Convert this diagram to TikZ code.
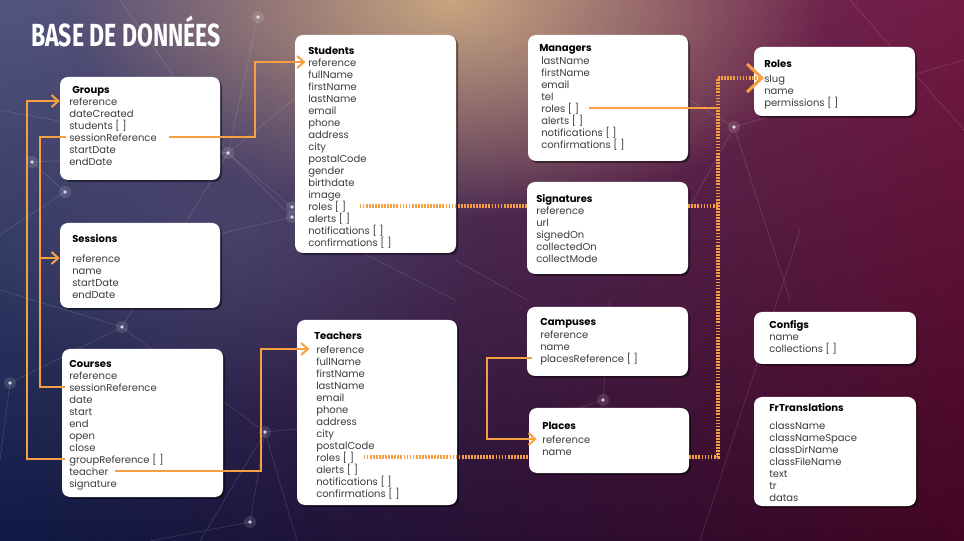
\documentclass[tikz,border=0pt]{standalone}
\usepackage{fontspec}
\setmainfont{Poppins}
\newfontfamily\headfont[FakeStretch=0.72]{Fira Sans}
\usetikzlibrary{arrows.meta,shadows,fit,fadings,shadings}

\definecolor{linkorange}{HTML}{F7A043}
\definecolor{fieldgray}{HTML}{3C3C3C}
\definecolor{bgtl}{HTML}{52567F}
\definecolor{bgtr}{HTML}{731A44}
\definecolor{bgbl}{HTML}{0E1A45}
\definecolor{bgbr}{HTML}{420522}
\definecolor{glowbeige}{HTML}{C8A680}

\tikzfading[name=glowfade, inner color=transparent!0, outer color=transparent!100]

% name, top left, bottom right, title pos, title, first field pos, fields
\newcommand{\entity}[7]{%
  \node[entbox, fit={(#2) (#3)}] (#1) {};
  \node[enttitle] (#1-t) at (#4) {#5};
  \foreach \f [count=\i] in {#7}
    \path (#6) ++(0,{12*(\i-1)}) node[field] (#1-\i) {\f};
}

\begin{document}
\begin{tikzpicture}[x=0.75pt, y=-0.75pt,
    entbox/.style={fill=white, rounded corners=6pt, inner sep=0pt,
      drop shadow={shadow xshift=1.5pt, shadow yshift=-1.5pt, opacity=0.45, fill=black}},
    enttitle/.style={anchor=west, inner sep=0pt, text=black, text height=7pt, text depth=0pt,
      font=\fontsize{7.5}{9}\selectfont\bfseries},
    field/.style={anchor=west, inner sep=0pt, text=fieldgray, text height=7pt, text depth=0pt,
      font=\fontsize{7.5}{9}\selectfont},
    link/.style={linkorange, line width=1.5pt},
    dotlink/.style={linkorange, line width=2.3pt, dash pattern=on 1.3pt off 1pt},
    net/.style={white, opacity=0.16, line width=0.4pt},
    >={Straight Barb[length=5pt, width=9pt, line width=1.5pt]}]

\useasboundingbox (0,0) rectangle (964,541);

% background
\begin{scope}
  \clip (0,0) rectangle (964,541);
  \shade[upper left=bgtl, upper right=bgtr, lower left=bgbl, lower right=bgbr] (0,0) rectangle (964,541);
  \fill[glowbeige, path fading=glowfade] (450,0) ellipse [x radius=380, y radius=220];
  \fill[bgtl, opacity=0.45, path fading=glowfade] (230,230) ellipse [x radius=260, y radius=180];
  \foreach \a/\b in {228/153, 292/207, 292/217, 122/327, 10/383, 265/432, 32/162, 65/192,
      258/17, 734/127, 603/400, 250/522}
    \fill[white, opacity=0.12] (\a,\b) circle [radius=6];
  \draw[net] (228,153) -- (292,207) (228,153) -- (292,217) (228,153) -- (32,162)
    (228,153) -- (258,17) (228,153) -- (0,110) (228,153) -- (120,0) (228,153) -- (330,70)
    (292,207) -- (455,150) (292,217) -- (455,300) (292,217) -- (150,250) (122,327) -- (10,383)
    (122,327) -- (265,432) (122,327) -- (228,153) (122,327) -- (0,290) (10,383) -- (0,460)
    (265,432) -- (297,541) (265,432) -- (200,541) (265,432) -- (390,420) (32,162) -- (65,192)
    (65,192) -- (0,235) (734,127) -- (688,210) (734,127) -- (964,60) (734,127) -- (790,300)
    (734,127) -- (640,70) (603,400) -- (527,425) (603,400) -- (610,300) (250,522) -- (265,432)
    (250,522) -- (150,541) (800,230) -- (700,541) (850,0) -- (964,130) (455,260) -- (527,300);
  \foreach \a/\b in {228/153, 292/207, 292/217, 122/327, 10/383, 265/432, 32/162, 65/192,
      258/17, 734/127, 603/400, 250/522}
    \fill[white, opacity=0.75] (\a,\b) circle [radius=1.8];
\end{scope}

\node[anchor=west, inner sep=0pt, text=white, font=\fontsize{24}{28}\selectfont\headfont\bfseries]
  (title) at (31,31) {BASE DE DONNÉES};

% tables
\entity{grp}{60,77}{220,180}{72,89}{Groups}{69,101}
  {reference, dateCreated, {students [ ]}, sessionReference, startDate, endDate}
\entity{ses}{60,223}{220,308}{72,238}{Sessions}{72,258}
  {reference, name, startDate, endDate}
\entity{crs}{62,349}{223,497}{69,363}{Courses}{69,375}
  {reference, sessionReference, date, start, end, open, close, {groupReference [ ]}, teacher, signature}
\entity{stu}{295,35}{456,253}{308,50}{Students}{308,62}
  {reference, fullName, firstName, lastName, email, phone, address, city, postalCode, gender,
   birthdate, image, {roles [ ]}, {alerts [ ]}, {notifications [ ]}, {confirmations [ ]}}
\entity{tea}{297,320}{457,505}{314,335}{Teachers}{316,349}
  {reference, fullName, firstName, lastName, email, phone, address, city, postalCode,
   {roles [ ]}, {alerts [ ]}, {notifications [ ]}, {confirmations [ ]}}
\entity{man}{528,35}{688,161}{539,47}{Managers}{541,60}
  {lastName, firstName, email, tel, {roles [ ]}, {alerts [ ]}, {notifications [ ]}, {confirmations [ ]}}
\entity{sig}{527,182}{688,274}{536,198}{Signatures}{536,210}
  {reference, url, signedOn, collectedOn, collectMode}
\entity{cam}{527,307}{688,376}{540,321}{Campuses}{540,334}
  {reference, name, {placesReference [ ]}}
\entity{pla}{529,408}{689,473}{542,425}{Places}{542,439}
  {reference, name}
\entity{rol}{754,47}{915,116}{764,63}{Roles}{764,78}
  {slug, name, {permissions [ ]}}
\entity{cfg}{754,312}{916,364}{769,324}{Configs}{769,336}
  {name, {collections [ ]}}
\entity{frt}{754,397}{916,506}{769,407}{FrTranslations}{769,425}
  {className, classNameSpace, classDirName, classFileName, text, tr, datas}

% links
\coordinate (j1) at (255,0);
\coordinate (j2) at (40,0);
\coordinate (j3) at (27,0);
\coordinate (j4) at (261,0);
\coordinate (j5) at (487,0);
\coordinate (j6) at (718,0);

\draw[link, ->, shorten <=9pt, shorten >=2pt] (grp-4.east) -- (grp-4.east -| j1) |- (stu-1.west);
\draw[link, shorten <=2pt, shorten >=3pt] (grp-4.west) -- (grp-4.west -| j2) |- (crs-2.west);
\draw[link, ->] (ses-1.west -| j2) -- (ses.west |- ses-1.west);
\draw[link, ->, shorten <=3pt] (crs-8.west) -- (crs-8.west -| j3) |- (grp.west |- grp-1.west);
\draw[link, ->, shorten <=5pt, shorten >=5pt] (crs-9.east) -- (crs-9.east -| j4) |- (tea-1.west);
\draw[link, ->, shorten <=6pt, shorten >=4pt] (cam-3.west) -- (cam-3.west -| j5) |- (pla-1.west);
\draw[link, shorten <=7pt] (man-5.east) -- (man-5.east -| j6);
% dotted role links pass behind Signatures and Places
\draw[dotlink, shorten <=10pt] (stu-13.east) -- (sig.west |- stu-13.east);
\draw[dotlink] (sig.east |- stu-13.east) -- (stu-13.east -| j6);
\draw[dotlink, shorten <=7pt] (tea-10.east) -- (pla.west |- tea-10.east);
\draw[dotlink, -{Straight Barb[length=11pt, width=21pt, line width=2.3pt]}, shorten >=0pt]
  (pla.east |- tea-10.east) -- (tea-10.east -| j6) |- (rol-1.west);
\end{tikzpicture}
\end{document}
